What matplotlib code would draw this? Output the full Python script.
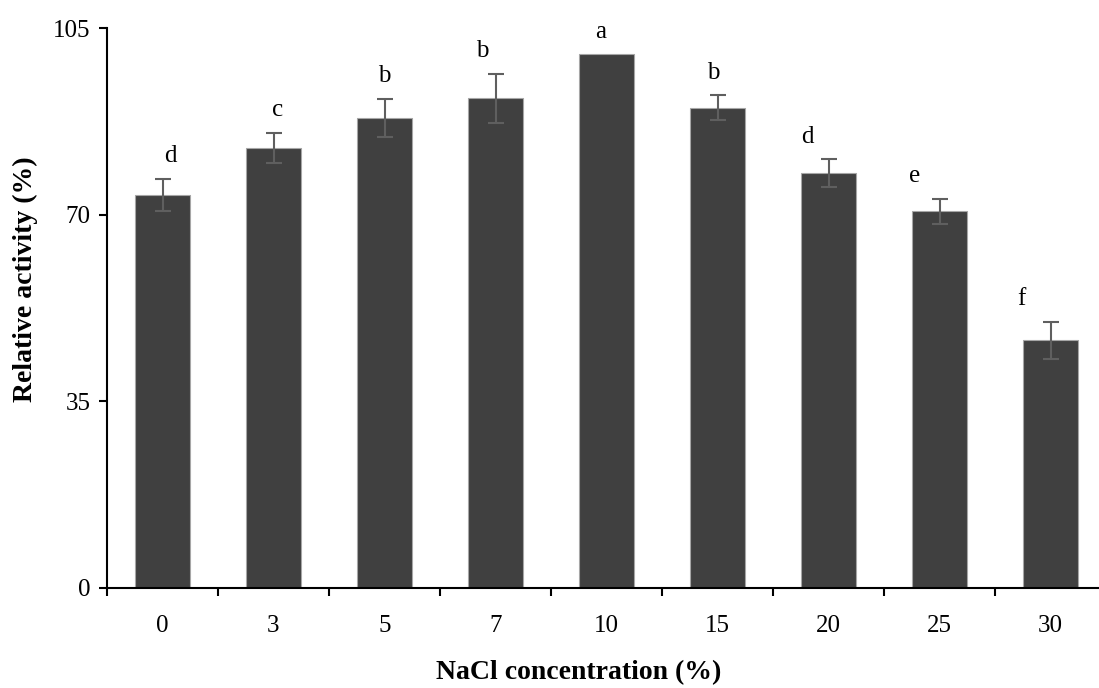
import matplotlib
matplotlib.use('Agg')
import matplotlib.pyplot as plt
import numpy as np

categories = ['0', '3', '5', '7', '10', '15', '20', '25', '30']
activity = [73.8, 82.6, 88.2, 91.9, 100.1, 90.1, 77.8, 70.7, 46.4]
errors = [3.0, 2.8, 3.6, 4.6, 0.0, 2.3, 2.65, 2.35, 3.55]
letters = ['d', 'c', 'b', 'b', 'a', 'b', 'd', 'e', 'f']
# small horizontal nudges of the letters, as in the original figure
letter_shift = [0.07, 0.04, 0.0, -0.12, -0.05, -0.04, -0.19, -0.22, -0.26]

plt.rcParams['font.family'] = ['Liberation Serif', 'DejaVu Serif']

fig = plt.figure(figsize=(10.99, 6.88), dpi=100)
ax = fig.add_axes([107 / 1099, 100.3 / 688, 999 / 1099, 559.4 / 688])

x = np.arange(len(categories))
ax.bar(x, activity, width=0.5, color='#404040', edgecolor='#a6a6a6', linewidth=0.8)
has_err = np.array(errors) > 0
ax.errorbar(x[has_err], np.array(activity)[has_err], yerr=np.array(errors)[has_err],
            fmt='none', ecolor='#5f5f5f', elinewidth=1.5, capsize=6, capthick=1.5)

for xi, v, e, lab, dx in zip(x, activity, errors, letters, letter_shift):
  ax.text(xi + dx, v + e + 4.2, lab, ha='center', va='center', fontsize=18)

ax.set_xlim(-0.5, 8.5)
ax.set_ylim(0, 105)
ax.set_yticks([0, 35, 70, 105])
ax.set_xticks(x)
ax.set_xticklabels(categories)
ax.set_xticks(np.arange(-0.5, 9.0, 1.0), minor=True)
ax.tick_params(axis='x', which='major', length=0, pad=20, labelsize=18)
ax.tick_params(axis='x', which='minor', length=6, width=1.5, direction='out')
ax.tick_params(axis='y', length=6, width=1.5, direction='out', labelsize=18, pad=6)

for s in ['top', 'right']:
  ax.spines[s].set_visible(False)
ax.spines['left'].set_linewidth(1.5)
ax.spines['bottom'].set_linewidth(1.5)

fig.text(25 / 1099, 1 - 279 / 688, 'Relative activity (%)', rotation=90,
         ha='center', va='center', fontsize=20, fontweight='bold')
fig.text(579 / 1099, 1 - 673 / 688, 'NaCl concentration (%)', ha='center', va='center',
         fontsize=20, fontweight='bold')

fig.savefig('out.png', dpi=100)
